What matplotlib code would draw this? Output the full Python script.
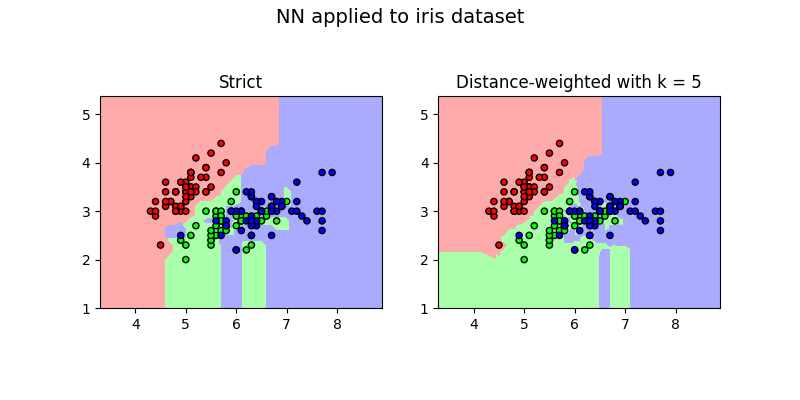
import numpy as np
import matplotlib
matplotlib.use("Agg")
import matplotlib.pyplot as plt
from matplotlib.colors import ListedColormap

setosa_x = [5.1,4.9,4.7,4.6,5.0,5.4,4.6,5.0,4.4,4.9,5.4,4.8,4.8,4.3,5.8,5.7,5.4,5.1,5.7,5.1,5.4,5.1,4.6,5.1,4.8,5.0,5.0,5.2,5.2,4.7,4.8,5.4,5.2,5.5,4.9,5.0,5.5,4.9,4.4,5.1,5.0,4.5,4.4,5.0,5.1,4.8,5.1,4.6,5.3,5.0]
setosa_y = [3.5,3.0,3.2,3.1,3.6,3.9,3.4,3.4,2.9,3.1,3.7,3.4,3.0,3.0,4.0,4.4,3.9,3.5,3.8,3.8,3.4,3.7,3.6,3.3,3.4,3.0,3.4,3.5,3.4,3.2,3.1,3.4,4.1,4.2,3.1,3.2,3.5,3.6,3.0,3.4,3.5,2.3,3.2,3.5,3.8,3.0,3.8,3.2,3.7,3.3]
versicolor_x = [7.0,6.4,6.9,5.5,6.5,5.7,6.3,4.9,6.6,5.2,5.0,5.9,6.0,6.1,5.6,6.7,5.6,5.8,6.2,5.6,5.9,6.1,6.3,6.1,6.4,6.6,6.8,6.7,6.0,5.7,5.5,5.5,5.8,6.0,5.4,6.0,6.7,6.3,5.6,5.5,5.5,6.1,5.8,5.0,5.6,5.7,5.7,6.2,5.1,5.7]
versicolor_y = [3.2,3.2,3.1,2.3,2.8,2.8,3.3,2.4,2.9,2.7,2.0,3.0,2.2,2.9,2.9,3.1,3.0,2.7,2.2,2.5,3.2,2.8,2.5,2.8,2.9,3.0,2.8,3.0,2.9,2.6,2.4,2.4,2.7,2.7,3.0,3.4,3.1,2.3,3.0,2.5,2.6,3.0,2.6,2.3,2.7,3.0,2.9,2.9,2.5,2.8]
virginica_x = [6.3,5.8,7.1,6.3,6.5,7.6,4.9,7.3,6.7,7.2,6.5,6.4,6.8,5.7,5.8,6.4,6.5,7.7,7.7,6.0,6.9,5.6,7.7,6.3,6.7,7.2,6.2,6.1,6.4,7.2,7.4,7.9,6.4,6.3,6.1,7.7,6.3,6.4,6.0,6.9,6.7,6.9,5.8,6.8,6.7,6.7,6.3,6.5,6.2,5.9]
virginica_y = [3.3,2.7,3.0,2.9,3.0,3.0,2.5,2.9,2.5,3.6,3.2,2.7,3.0,2.5,2.8,3.2,3.0,3.8,2.6,2.2,3.2,2.8,2.8,2.7,3.3,3.2,2.8,3.0,2.8,3.0,2.8,3.8,2.8,2.8,2.6,3.0,3.4,3.1,3.0,3.1,3.1,3.1,2.7,3.2,3.3,3.0,2.5,3.0,3.4,3.0]
titles = ["Strict", "Distance-weighted with k = 5"]

X = np.column_stack([setosa_x + versicolor_x + virginica_x, setosa_y + versicolor_y + virginica_y])
y = np.array([0]*len(setosa_x) + [1]*len(versicolor_x) + [2]*len(virginica_x))
Xr, yr = X[::-1], y[::-1]

cmap_light = ListedColormap(['#FFAAAA', '#AAFFAA', '#AAAAFF'])
cmap_bold = ListedColormap(['#FF0000', '#00FF00', '#0000FF'])

h = 0.02
x_min, x_max = X[:, 0].min() - 1, X[:, 0].max() + 1
y_min, y_max = X[:, 1].min() - 1, X[:, 1].max() + 1
xx, yy = np.meshgrid(np.arange(x_min, x_max, h), np.arange(y_min, y_max, h))
G = np.c_[xx.ravel(), yy.ravel()]
D = np.round(np.abs(G[:, None, :] - Xr[None, :, :]).sum(-1), 9)

def predict(mode):
    if mode == 0:
        return yr[np.argmin(D, axis=1)]
    k = 5
    idx = np.argsort(D, axis=1, kind='stable')[:, :k]
    d = np.take_along_axis(D, idx, axis=1)
    w = 1.0 / np.maximum(d, 1e-12)
    votes = np.zeros((len(G), 3))
    for c in range(3):
        votes[:, c] = (w * (yr[idx] == c)).sum(1)
    return votes.argmax(1)

fig = plt.figure(figsize=(8, 4), dpi=100)
fig.suptitle("NN applied to iris dataset", fontsize=14)
positions = [[0.125, 0.23, 0.352, 0.53], [0.548, 0.23, 0.352, 0.53]]
for i in range(2):
    ax = fig.add_axes(positions[i])
    Z = predict(i).reshape(xx.shape)
    ax.pcolormesh(xx, yy, Z, cmap=cmap_light, shading='auto')
    ax.scatter(X[:, 0], X[:, 1], c=y, cmap=cmap_bold, edgecolor='k', s=20)
    ax.set_xlim(xx.min(), xx.max())
    ax.set_ylim(yy.min(), yy.max())
    ax.set_title(titles[i])
fig.savefig("out.png")
